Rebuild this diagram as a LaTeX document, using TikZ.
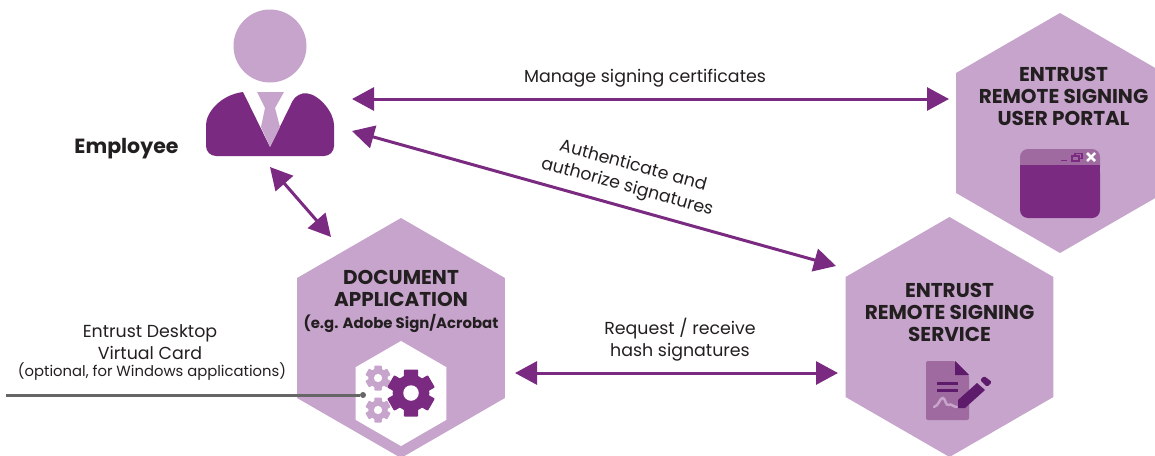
\documentclass[tikz,border=0pt]{standalone}
\usepackage{fontspec}
\setmainfont{Poppins}
\usetikzlibrary{arrows.meta,shapes.geometric}
\definecolor{lilac}{HTML}{C7A4CC}
\definecolor{plum}{HTML}{7A2A80}
\definecolor{midplum}{HTML}{9E6A9F}
\definecolor{darkplum}{HTML}{5F1B6B}
\definecolor{inktext}{HTML}{231F20}
\definecolor{wire}{HTML}{666666}
\newcommand{\gearicon}[4]{%
	\fill[#4] (#1,#2) circle (#3*0.78);
	\foreach \a in {0,60,...,300} {
		\fill[#4, rounded corners=0.8pt, shift={(#1,#2)}, rotate=\a]
			(-#3*0.3,0) rectangle (#3*0.3,#3);
	}
	\fill[white] (#1,#2) circle (#3*0.33);
}
\begin{document}
\begin{tikzpicture}[x=1pt,y=-1pt]
	\tikzset{hexa/.style={regular polygon, regular polygon sides=6, shape border rotate=30, fill=lilac, minimum size=240pt, inner sep=0pt}};
	\tikzset{title/.style={font=\fontsize{20}{22}\selectfont\bfseries, text=inktext, align=center}};
	\tikzset{lbl/.style={font=\fontsize{17.4}{22}\selectfont, text=inktext, align=center}};
	\tikzset{both/.style={line width=3pt, plum, {Triangle[length=22pt,width=23pt]}-{Triangle[length=22pt,width=23pt]}}};

	\clip (0,0) rectangle (1155,455);

	\node[hexa] (portal) at (1060,133) {};
	\node[hexa] (service) at (949.5,337) {};
	\node[hexa] (docapp) at (401,338) {};
	\node[regular polygon, regular polygon sides=6, shape border rotate=30, fill=white, minimum size=105pt, inner sep=0pt] (gearbox) at (401,393.5) {};

	\node[title] (portaltxt) at (1063.5,96) {ENTRUST\\REMOTE SIGNING\\USER PORTAL};
	\node[title] (servicetxt) at (949.5,312) {ENTRUST\\REMOTE SIGNING\\SERVICE};
	\node[title] (docapptxt) at (401,288) {DOCUMENT\\APPLICATION};
	\node[title, font=\fontsize{14.9}{18}\selectfont\bfseries] (egtxt) at (401,323) {(e.g. Adobe Sign/Acrobat};
	\node[title, font=\fontsize{20.5}{22}\selectfont\bfseries] (employeetxt) at (126.5,148.5) {Employee};

	\node[lbl] (managetxt) at (645,78) {Manage signing certificates};
	\node[lbl, rotate=-15.4] (authtxt) at (630,177) {Authenticate and\\authorize signatures};
	\node[lbl] (hashtxt) at (680,340) {Request / receive\\hash signatures};
	\node[lbl] (cardtxt) at (150,342) {Entrust Desktop\\Virtual Card};
	\node[lbl, font=\fontsize{14.8}{18}\selectfont] (opttxt) at (152,372) {(optional, for Windows applications)};

	\fill[lilac] (270,46) circle (36.5);
	\fill[plum, rounded corners=10pt] (243,92) .. controls (220,95) and (206,113) .. (206,135) -- (206,156) -- (334,156) -- (334,135) .. controls (334,113) and (320,95) .. (297,92) [sharp corners] -- (270,147) -- cycle;
	\fill[lilac] (257,92) -- (284,92) -- (275,108) -- (280,127) -- (270,147) -- (261,127) -- (265,108) -- cycle;

	\fill[plum, rounded corners=8pt] (1020,165) rectangle (1100,218);
	\fill[midplum, rounded corners=8pt] (1020,149) rectangle (1100,175);
	\fill[plum] (1020,165) rectangle (1100,178);
	\draw[plum, line width=1.5pt] (1061,160.5) -- (1067,160.5);
	\draw[plum, line width=1.2pt] (1072,156) rectangle (1079,161);
	\draw[plum, line width=1.2pt] (1075,156) -- (1075,153.5) -- (1082,153.5) -- (1082,158.5) -- (1079,158.5);
	\draw[white, line width=2.5pt] (1087,153) -- (1095,161) (1095,153) -- (1087,161);

	\fill[midplum, rounded corners=2pt] (926,361) -- (955,361) -- (969,375) -- (969,420) -- (926,420) -- cycle;
	\fill[darkplum] (955,361) -- (969,375) -- (955,375) -- cycle;
	\draw[darkplum, line width=3pt] (937,383) -- (958,383) (937,390) -- (958,390);
	\draw[lilac, line width=2.5pt, line cap=round] (934,407) .. controls (939,406) and (940,397) .. (943,398) .. controls (946,399) and (945,406) .. (949,405) .. controls (951,403) and (953,407) .. (957,407);
	\fill[darkplum] (958,400) -- (977,383) -- (985,390) -- (965,408) -- (958,408) -- cycle;
	\fill[darkplum, rounded corners=1.5pt] (980,380) -- (984,376) -- (992,382) -- (987,387) -- cycle;

	\gearicon{378}{378}{12.5}{lilac}
	\gearicon{378}{410}{12.5}{lilac}
	\gearicon{411}{393}{23.5}{plum}

	\coordinate (mgleft) at (352,99);
	\coordinate (mgright) at (949,99);
	\coordinate (authleft) at (352,131);
	\coordinate (authright) at (836,266);
	\coordinate (empdown) at (270,167);
	\coordinate (appup) at (331,237);
	\coordinate (hashleft) at (515,373);
	\coordinate (hashright) at (838,373);
	\coordinate (wirestart) at (6,395);
	\node[circle, fill=wire, minimum size=6pt, inner sep=0pt] (wiredot) at (363,395) {};

	\draw[both] (mgleft) to (mgright);
	\draw[both] (authleft) to (authright);
	\draw[both] (empdown) to (appup);
	\draw[both] (hashleft) to (hashright);
	\draw[wire, line width=3pt] (wirestart) to (wiredot);

\end{tikzpicture}
\end{document}
